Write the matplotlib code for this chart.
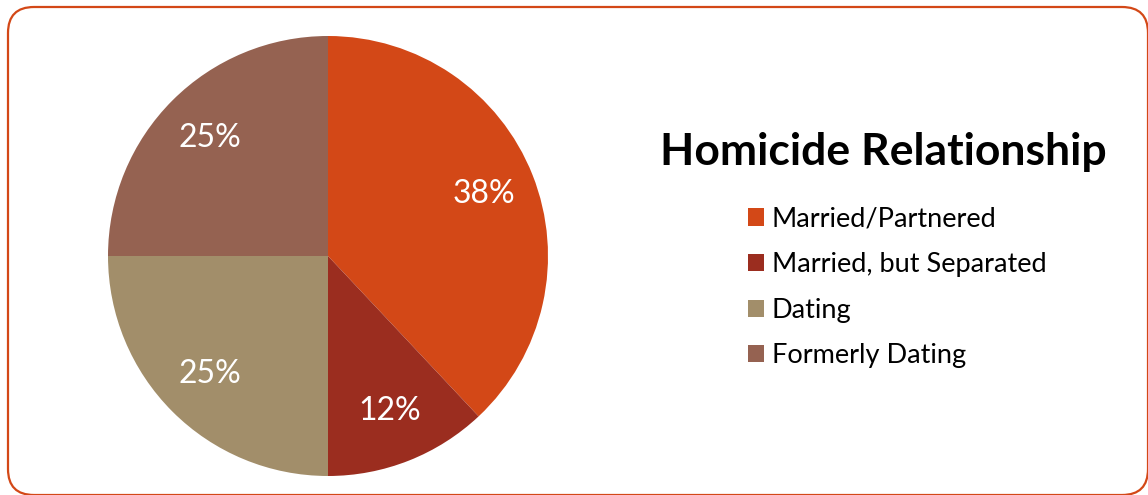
import matplotlib
matplotlib.use("Agg")
import matplotlib.pyplot as plt
from matplotlib.patches import FancyBboxPatch, Patch

plt.rcParams["font.family"] = ["Lato", "DejaVu Sans"]

# data
categories = ["Married/Partnered", "Married, but Separated", "Dating", "Formerly Dating"]
shares = [38, 12, 25, 25]
colors = ["#D34817", "#9B2D1F", "#A28E6A", "#956251"]
title = "Homicide Relationship"

W, H = 1148, 495
fig = plt.figure(figsize=(W / 100, H / 100), dpi=100, facecolor="white")

# rounded frame, drawn in pixel coordinates (y downwards)
bg = fig.add_axes([0, 0, 1, 1])
bg.set_xlim(0, W)
bg.set_ylim(H, 0)
bg.axis("off")
bg.add_patch(FancyBboxPatch((8, 7), 1140, 488,
                            boxstyle="round,pad=0,rounding_size=26",
                            facecolor="none", edgecolor="#D34817",
                            linewidth=1.6, clip_on=False))

# pie
cx, cy, r = 328, 256, 220
ax = fig.add_axes([(cx - r) / W, (H - cy - r) / H, 2 * r / W, 2 * r / H])
wedges, _, autotexts = ax.pie(shares, colors=colors, startangle=90,
                              counterclock=False, autopct="%d%%",
                              pctdistance=0.76, radius=1,
                              textprops=dict(color="white", fontsize=23))
ax.set_xlim(-1, 1)
ax.set_ylim(-1, 1)
ax.set_aspect("equal")
ax.axis("off")

# title and legend
fig.text(883 / W, 1 - 152 / H, title, ha="center", va="center",
         fontsize=32, fontweight="bold", color="black")
handles = [Patch(facecolor=c, edgecolor="none") for c in colors]
fig.legend(handles, categories, loc="upper left",
           bbox_to_anchor=(734 / W, 1 - 193 / H), frameon=False,
           fontsize=19.5, handlelength=0.6, handleheight=0.6,
           handletextpad=0.3, labelspacing=0.76, borderpad=0)

fig.savefig("out.png", dpi=100, facecolor="white")
